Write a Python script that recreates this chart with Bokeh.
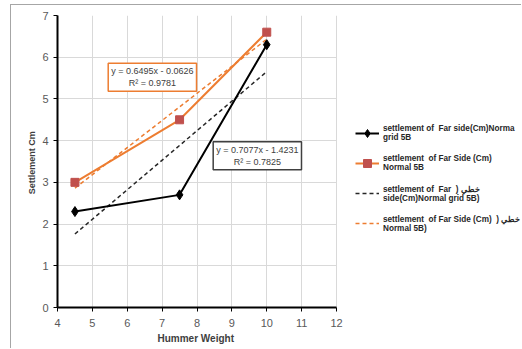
from bokeh.plotting import figure
from bokeh.models import Legend, LegendItem, Label, FixedTicker, Title
from bokeh.embed import file_html
from bokeh.resources import INLINE

# data
hammer_weight = [4.5, 7.5, 10]
settle_grid = [2.3, 2.7, 6.3]
settle_normal = [3.0, 4.5, 6.6]
trend_grid = (0.7077, -1.4231)
trend_normal = (0.6495, -0.0626)
trend_grid_text = "y = 0.7077x - 1.4231\nR² = 0.7825"
trend_normal_text = "y = 0.6495x - 0.0626\nR² = 0.9781"
x_ticks = [4, 5, 6, 7, 8, 9, 10, 11, 12]
y_ticks = [0, 1, 2, 3, 4, 5, 6, 7]
x_title = "Hummer Weight"
y_title = "Settlement  Cm"
labels = [
    "settlement of  Far side(Cm)Norma\ngrid 5B",
    "settlement  of Far Side (Cm)\nNormal 5B",
    "settlement of  Far  ) خطي\nside(Cm)Normal grid 5B)",
    "settlement  of Far Side (Cm)  ) خطي\nNormal 5B)",
]

FONT = "Liberation Sans"
ORANGE = "#ed7d31"
SQUARE = "#c0504d"

X_AXIS_MIN, X_AXIS_MAX = 4, 12
# frame extends to the right to hold the legend; axis/grid bounded to 4..12
p = figure(width=511, height=344, x_range=(4, 17.333), y_range=(0, 7),
           output_backend="svg", toolbar_location=None,
           min_border_left=46, min_border_top=10, min_border_bottom=42,
           min_border_right=0)
p.outline_line_color = None
p.styles = {"border-top": "1px solid #a6a6a6", "border-left": "1px solid #a6a6a6",
            "margin-left": "10px", "margin-top": "4px"}

for ax in (p.xaxis[0], p.yaxis[0]):
    ax.axis_line_color = "black"
    ax.axis_line_width = 2
    ax.major_tick_line_color = "black"
    ax.major_tick_in = 0
    ax.major_tick_out = 4
    ax.minor_tick_line_color = None
    ax.major_label_text_font = FONT
    ax.major_label_text_font_size = "11px"
    ax.major_label_text_color = "#595959"
    ax.axis_label_text_font = FONT
    ax.axis_label_text_font_style = "bold"
    ax.axis_label_text_color = "#404040"
p.xaxis.ticker = FixedTicker(ticks=x_ticks)
p.yaxis.ticker = FixedTicker(ticks=y_ticks)
p.xaxis.bounds = (X_AXIS_MIN, X_AXIS_MAX)
p.xaxis.major_label_standoff = 7
p.yaxis.axis_label = y_title
p.yaxis.axis_label_text_font_size = "9px"
p.yaxis.axis_label_standoff = 2
p.add_layout(Title(text=x_title, align="left", offset=100, standoff=2,
                   text_font=FONT, text_font_size="10px", text_font_style="bold",
                   text_color="#404040"), "below")
p.xgrid.grid_line_color = "#d9d9d9"
p.xgrid.bounds = (X_AXIS_MIN, X_AXIS_MAX)
yg = p.ygrid[0]
if "cross_bounds" in yg.properties():
    yg.cross_bounds = (X_AXIS_MIN, X_AXIS_MAX)
    yg.grid_line_color = "#d9d9d9"
else:
    yg.grid_line_color = None
    p.segment(x0=[X_AXIS_MIN] * len(y_ticks), x1=[X_AXIS_MAX] * len(y_ticks),
              y0=y_ticks, y1=y_ticks, line_color="#d9d9d9", line_width=1,
              level="underlay")

tx = [hammer_weight[0], hammer_weight[-1]]
tg = [trend_grid[0] * x + trend_grid[1] for x in tx]
tn = [trend_normal[0] * x + trend_normal[1] for x in tx]

r_tg = p.line(tx, tg, line_color="#262626", line_width=1.5, line_dash="4 3")
r_tn = p.line(tx, tn, line_color=ORANGE, line_width=1.5, line_dash="4 3")

l1 = p.line(hammer_weight, settle_grid, line_color="black", line_width=2)
m1 = p.scatter(hammer_weight, settle_grid, marker="diamond", size=10,
               fill_color="black", line_color="black")
l2 = p.line(hammer_weight, settle_normal, line_color=ORANGE, line_width=2)
m2 = p.scatter(hammer_weight, settle_normal, marker="square", size=8,
               fill_color=SQUARE, line_color=SQUARE)

lab_n = Label(x=6.72, y=5.52, text=trend_normal_text, text_align="center",
              text_baseline="middle", text_font=FONT, text_font_size="9px",
              text_color="#404040", border_line_color=ORANGE, border_line_width=1.5,
              background_fill_color="white", padding=3)
lab_g = Label(x=9.73, y=3.64, text=trend_grid_text, text_align="center",
              text_baseline="middle", text_font=FONT, text_font_size="9px",
              text_color="#404040", border_line_color="#404040", border_line_width=1.5,
              background_fill_color="white", padding=3)
p.add_layout(lab_n)
p.add_layout(lab_g)

legend = Legend(items=[
    LegendItem(label=labels[0], renderers=[l1, m1]),
    LegendItem(label=labels[1], renderers=[l2, m2]),
    LegendItem(label=labels[2], renderers=[r_tg]),
    LegendItem(label=labels[3], renderers=[r_tn]),
], location=(298, 74))
legend.label_text_font = FONT
legend.label_text_font_size = "8.2px"
legend.label_text_font_style = "bold"
legend.label_text_color = "#262626"
legend.glyph_width = 24
legend.glyph_height = 20
legend.spacing = 10
legend.border_line_color = None
legend.background_fill_alpha = 0
legend.margin = 0
legend.padding = 0
legend.label_standoff = 4
p.add_layout(legend)

open("out.html", "w").write(file_html(p, INLINE))
